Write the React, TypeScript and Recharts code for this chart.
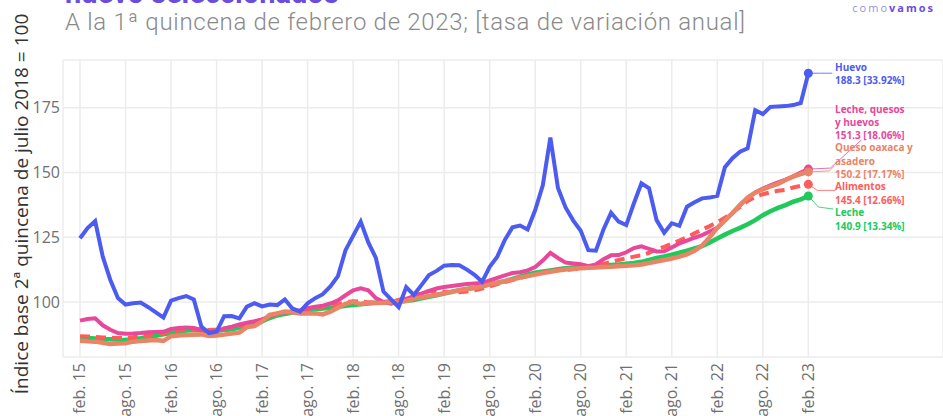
import React from 'react';
import { CartesianGrid, Line, LineChart, XAxis, YAxis } from 'recharts';

// monthly index values, feb. 2015 (0) to feb. 2023 (96)
const huevo = [
  124.6, 128.5, 131.2, 117.5, 108.5, 101.5, 99, 99.5, 99.8, 98, 96, 94,
  100.5, 101.5, 102.3, 101, 90.5, 88, 88.5, 94.5, 94.6, 93.7, 98.2, 99.5,
  98.3, 99, 98.8, 101, 97.5, 96.3, 99.5, 101.5, 103, 106, 110, 120,
  125.5, 131, 123, 117, 104, 101, 98, 105.7, 102.7, 106.5, 110.4, 112,
  114, 114.3, 114.2, 112.5, 110.5, 107.8, 113.6, 117.5, 124, 128.8, 129.5, 128,
  135.5, 145, 163.5, 144, 136.5, 131.5, 127.5, 120, 119.8, 128, 134.5, 131,
  129.7, 138, 145.8, 143.9, 131.6, 126.7, 130.4, 129.4, 136.8, 138.5, 140, 140.3,
  141, 152, 155.5, 158, 159.3, 174, 172.5, 175.3, 175.5, 175.6, 176, 176.8,
  188.3,
];

const lecheQuesos = [
  92.8, 93.4, 93.7, 91, 89.3, 88, 87.7, 87.8, 88, 88.3, 88.4, 88.5,
  89.6, 90, 90.2, 90, 89.2, 88.5, 88.7, 89.8, 90.5, 91.3, 92, 92.6,
  93.3, 94.5, 95.6, 96, 96.3, 96.8, 97.6, 98.2, 98.6, 99.4, 100.6, 102.6,
  104.5, 105.3, 104.5, 101.5, 100, 99.3, 100, 101.2, 102.3, 103.2, 104.3, 105.2,
  105.8, 106.2, 106.6, 106.9, 107.1, 107.3, 108.3, 109.3, 110.3, 111.2, 111.5, 112.2,
  113.5, 116, 119, 117, 115.2, 114.9, 114.6, 113.8, 114.5, 116.5, 118, 118.1,
  119.2, 120.8, 121.5, 120.5, 119.5, 119.6, 121, 122.6, 123.7, 124.8, 125.8, 127.2,
  128.6, 131.5, 134.3, 137.3, 140.3, 142.3, 143.8, 145, 146.2, 147.2, 148.5, 150,
  151.3,
];

const quesoOaxaca = [
  85, 84.8, 84.7, 84.3, 83.8, 84, 84.1, 84.7, 84.9, 85.1, 85.3, 85,
  86.8, 87.1, 87.3, 87.4, 87.5, 86.9, 87.1, 87.4, 87.8, 88.2, 90.3, 90.7,
  92.5, 95, 95.6, 96.3, 96, 95.6, 95.6, 95.6, 95.2, 96.3, 97.8, 99.3,
  100.1, 99.2, 99.8, 99.6, 99.7, 99.9, 100, 100.4, 101.2, 101.8, 102.3, 102.8,
  103.4, 104, 104.5, 105, 105.4, 106, 106.8, 107.4, 108, 108.7, 109.4, 110,
  110.6, 111.2, 111.7, 112.1, 112.5, 112.8, 113, 113.2, 113.3, 113.5, 113.6, 113.8,
  114, 114.2, 114.5, 115, 115.6, 116.2, 116.8, 117.5, 118.4, 119.8, 121.8, 125,
  128.6, 131.5, 134.3, 137.5, 140.2, 142.2, 143.5, 144.6, 145.6, 147.1, 148.4, 149.4,
  150.2,
];

const alimentos = [
  86.8, 86.7, 86.5, 86.3, 86.2, 86.1, 86.1, 86.4, 86.8, 87.3, 87.7, 88,
  88.6, 89, 89.4, 89.6, 89.4, 89.2, 89.4, 89.8, 90.3, 90.9, 91.5, 92.2,
  93.2, 94.4, 95.3, 95.8, 96.2, 96.6, 97.3, 98, 98.2, 98.6, 99.1, 99.8,
  100.3, 100.2, 99.9, 99.8, 100, 100.3, 100.8, 101.6, 102.4, 103.3, 104.2, 104.2,
  104, 103.8, 103.8, 104, 104.5, 105.2, 106, 106.9, 107.7, 108.5, 109.3, 110,
  110.7, 111.4, 112, 112.3, 112.4, 112.6, 112.8, 113.3, 114, 114.7, 115.5, 116.2,
  116.9, 117.5, 118, 119, 120.3, 121.3, 122.5, 123.7, 125, 126.5, 128, 129.3,
  130.8, 132.5, 134.5, 136.7, 139, 140.6, 141.6, 142.3, 142.9, 143.3, 144.2, 144.8,
  145.4,
];

const leche = [
  86.2, 86.1, 85.9, 85.7, 85.6, 85.4, 85.3, 85.6, 86, 86.6, 87, 87.5,
  88, 88.5, 89, 89.2, 89, 88.7, 88.9, 89.2, 89.5, 90.1, 90.7, 91.5,
  92.5, 93.8, 94.8, 95.4, 95.9, 96.3, 96.8, 97.2, 97.5, 97.8, 98.1, 98.5,
  98.8, 99.1, 99.4, 99.7, 99.9, 100.1, 100.3, 100.5, 100.8, 101.4, 102, 102.6,
  103.3, 103.9, 104.5, 105, 105.5, 106.1, 106.8, 107.4, 108, 108.9, 109.8, 110.6,
  111.3, 111.8, 112.2, 112.6, 113, 113.3, 113.5, 113.7, 113.9, 114.1, 114.3, 114.5,
  114.8, 115.1, 115.5, 116.2, 117, 117.6, 118.3, 119, 119.8, 120.7, 121.6, 123,
  124.5, 126, 127.4, 128.6, 130, 131.6, 133.5, 135, 136.3, 137.4, 138.7, 139.6,
  140.9,
];

const tickLabels = [
  'feb. 15', 'ago. 15', 'feb. 16', 'ago. 16', 'feb. 17', 'ago. 17', 'feb. 18', 'ago. 18',
  'feb. 19', 'ago. 19', 'feb. 20', 'ago. 20', 'feb. 21', 'ago. 21', 'feb. 22', 'ago. 22', 'feb. 23',
];
const yTicks = [100, 125, 150, 175];

const data = huevo.map((v, i) => ({
  i,
  huevo: v,
  lecheQuesos: lecheQuesos[i],
  quesoOaxaca: quesoOaxaca[i],
  alimentos: alimentos[i],
  leche: leche[i],
}));
const last = data.length - 1;

type EndLabel = {
  lines: string[];
  color: string;
  dy: number; // first text line centre relative to the point
  elbow: [number, number];
  end: [number, number];
};

const endLabels: Record<string, EndLabel> = {
  huevo: { lines: ['Huevo', '188.3 [33.92%]'], color: '#4c5cf0', dy: -6, elbow: [12, 0], end: [24, 0] },
  lecheQuesos: {
    lines: ['Leche, quesos', 'y huevos', '151.3 [18.06%]'],
    color: '#e8479a', dy: -60, elbow: [22, -1], end: [53, -29],
  },
  quesoOaxaca: {
    lines: ['Queso oaxaca y', 'asadero', '150.2 [17.17%]'],
    color: '#ea8466', dy: -24, elbow: [21, -1], end: [26, -6],
  },
  alimentos: { lines: ['Alimentos', '145.4 [12.66%]'], color: '#ff5b5b', dy: 2.6, elbow: [9, 6], end: [27, 6] },
  leche: { lines: ['Leche', '140.9 [13.34%]'], color: '#20c95c', dy: 16.6, elbow: [10, 11], end: [25, 13] },
};

function endDot(key: string) {
  return (p: any) => {
    if (p.index !== last) return <g key={`d-${key}-${p.index}`} />;
    const l = endLabels[key];
    const { cx, cy } = p;
    return (
      <g key={`d-${key}-${p.index}`}>
        <polyline
          points={`${cx},${cy} ${cx + l.elbow[0]},${cy + l.elbow[1]} ${cx + l.end[0]},${cy + l.end[1]}`}
          fill="none"
          stroke={l.color}
          strokeWidth={1}
          strokeOpacity={0.8}
        />
        <circle cx={cx} cy={cy} r={4.5} fill={l.color} />
        {l.lines.map((t, k) => (
          <text
            key={k}
            x={835}
            y={cy + l.dy + k * 13.4 + 3.5}
            fill={l.color}
            fontSize={10}
            fontWeight={700}
            fontFamily="'Open Sans', sans-serif"
          >
            {t}
          </text>
        ))}
      </g>
    );
  };
}

const XTick = ({ x, y, payload }: any) => (
  <text
    x={x}
    y={y}
    dy={5.5}
    transform={`rotate(-90 ${x} ${y})`}
    textAnchor="end"
    fill="#707070"
    fontSize={16}
    fontFamily="'Open Sans', sans-serif"
  >
    {tickLabels[Math.round(payload.value / 6)]}
  </text>
);

export default function App() {
  return (
    <div style={{ position: 'absolute', left: 0, top: 0, width: 943, height: 416, background: '#fff', overflow: 'hidden' }}>
      <LineChart width={943} height={416} data={data} margin={{ top: 60, right: 0, bottom: 0, left: 0 }}>
        <CartesianGrid stroke="#ececec" strokeWidth={1.5} />
        <XAxis
          dataKey="i"
          type="number"
          domain={[-2.24, 113.75]}
          ticks={tickLabels.map((_, k) => k * 6)}
          allowDataOverflow
          axisLine={false}
          tickLine={false}
          tickSize={0}
          tickMargin={6}
          height={59}
          tick={<XTick />}
          interval={0}
        />
        <YAxis
          type="number"
          domain={[78.77, 193.4]}
          ticks={yTicks}
          allowDataOverflow
          axisLine={false}
          tickLine={false}
          tickSize={0}
          tickMargin={3}
          width={63}
          tick={{ fill: '#707070', fontSize: 16, fontFamily: "'Open Sans', sans-serif" }}
        />
        <Line dataKey="leche" stroke="#20c95c" strokeWidth={4.5} dot={endDot('leche')} activeDot={false} isAnimationActive={false} />
        <Line dataKey="alimentos" stroke="#ff5b5b" strokeWidth={4} strokeDasharray="10 6" dot={endDot('alimentos')} activeDot={false} isAnimationActive={false} />
        <Line dataKey="lecheQuesos" stroke="#e8479a" strokeWidth={4} dot={endDot('lecheQuesos')} activeDot={false} isAnimationActive={false} />
        <Line dataKey="quesoOaxaca" stroke="#ea8466" strokeWidth={4.5} dot={endDot('quesoOaxaca')} activeDot={false} isAnimationActive={false} />
        <Line dataKey="huevo" stroke="#4c5cf0" strokeWidth={4} dot={endDot('huevo')} activeDot={false} isAnimationActive={false} />
      </LineChart>
      <svg width={943} height={416} style={{ position: 'absolute', left: 0, top: 0, pointerEvents: 'none' }}>
        <text x={65} y={3} fill="#6a4de0" fontSize={29} fontWeight={700} fontFamily="Roboto, sans-serif">
          huevo seleccionados
        </text>
        <text x={65} y={30} fill="#8a8a8a" fontSize={24} fontWeight={300} letterSpacing={0.7} fontFamily="Roboto, sans-serif">
          A la 1ª quincena de febrero de 2023; [tasa de variación anual]
        </text>
        <text x={935} y={12} textAnchor="end" fontSize={11} letterSpacing={2} fontFamily="'Open Sans', sans-serif">
          <tspan fill="#9b90d8">como</tspan>
          <tspan fill="#6a4de0" fontWeight={700}>vamos</tspan>
        </text>
        <text
          x={28}
          y={204}
          transform="rotate(-90 28 204)"
          textAnchor="middle"
          fill="#333"
          fontSize={19}
          fontFamily="'Open Sans', sans-serif"
        >
          Índice base 2ª quincena de julio 2018 = 100
        </text>
      </svg>
    </div>
  );
}
